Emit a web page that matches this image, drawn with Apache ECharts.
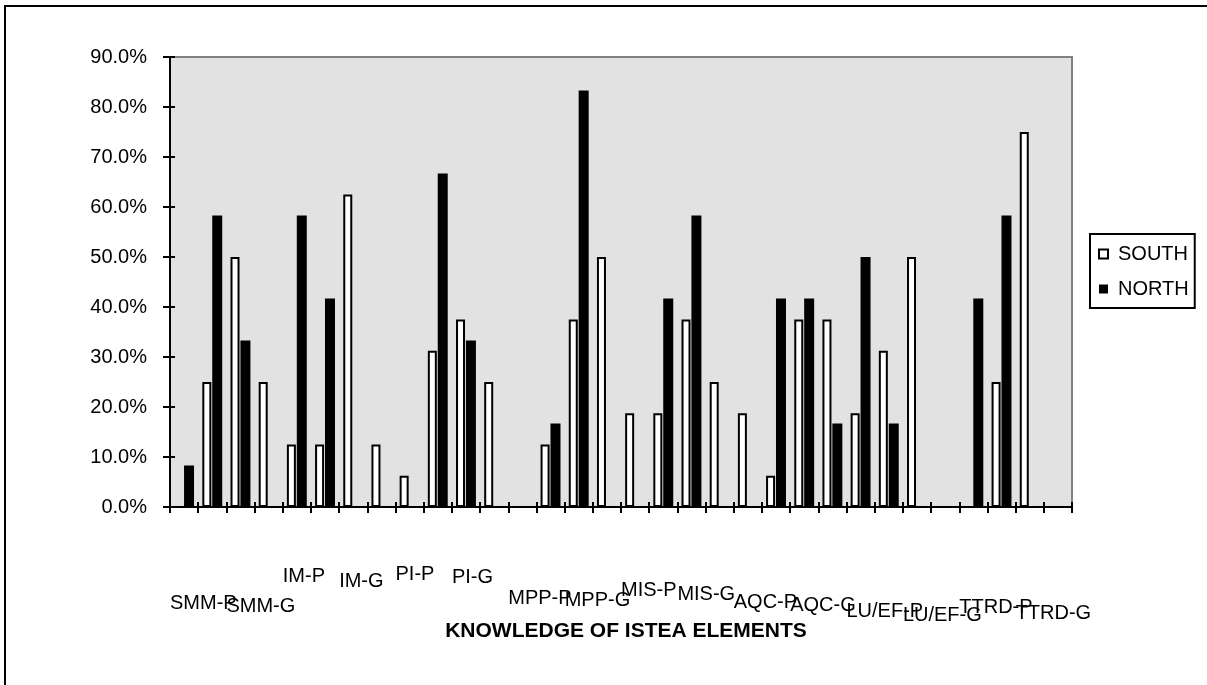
<!DOCTYPE html>
<html>
<head>
<meta charset="utf-8">
<script src="https://cdn.jsdelivr.net/npm/echarts@6/dist/echarts.min.js"></script>
<style>
  html, body { margin: 0; padding: 0; background: #fff; }
  #chart { width: 1207px; height: 685px; }
</style>
</head>
<body>
<div id="chart"></div>
<script>
// ---- data ----
const itemLabels = ['SMM-P', 'SMM-G', 'IM-P', 'IM-G', 'PI-P', 'PI-G', 'MPP-P', 'MPP-G',
  'MIS-P', 'MIS-G', 'AQC-P', 'AQC-G', 'LU/EF-P', 'LU/EF-G', 'TTRD-P', 'TTRD-G'];
// each element occupies two category slots on the chart
const slots = itemLabels.flatMap(l => [l + ' a', l + ' b']);
const southValues = [0, 25, 50, 25, 12.5, 12.5, 62.5, 12.5, 6.25, 31.25, 37.5, 25, 0, 12.5, 37.5, 50,
  18.75, 18.75, 37.5, 25, 18.75, 6.25, 37.5, 37.5, 18.75, 31.25, 50, 0, 0, 25, 75, 0];
const northValues = [8.3, 58.3, 33.3, 0, 58.3, 41.7, 0, 0, 0, 66.7, 33.3, 0, 0, 16.7, 83.3, 0,
  0, 41.7, 58.3, 0, 0, 41.7, 41.7, 16.7, 50, 16.7, 0, 0, 41.7, 58.3, 0, 0];
const seriesNames = ['SOUTH', 'NORTH'];
const yTicks = { min: 0, max: 90, interval: 10 };
const xTitle = 'KNOWLEDGE OF ISTEA ELEMENTS';

// ---- layout (vertical drop of each element label, px) ----
const labelDrop = [29, 32, 2, 7, 0, 3, 24, 26, 16, 20, 28, 31, 37, 41, 33, 39];

const FONT = "'Liberation Sans', Arial, sans-serif";
const rich = {};
labelDrop.forEach((d, i) => { rich['r' + i] = { lineHeight: 20 + 2 * d, fontSize: 20, fontFamily: FONT, color: '#000' }; });

// label axis: element boundaries (labels start at the left edge of each element's pair of slots)
const labelAxisData = itemLabels.concat(['']);

const chart = echarts.init(document.getElementById('chart'));
chart.setOption({
  animation: false,
  textStyle: { fontFamily: FONT },
  graphic: [{
    type: 'rect', shape: { x: 5, y: 6, width: 1300, height: 800 },
    style: { fill: 'none', stroke: '#000', lineWidth: 2 }, silent: true, z: -1
  }],
  grid: {
    left: 170, right: 135, top: 57, bottom: 178,
    show: true, backgroundColor: '#e2e2e2', borderColor: '#808080', borderWidth: 2
  },
  legend: {
    orient: 'vertical', left: 1090, top: 234,
    padding: [10, 6, 9, 8], itemGap: 15, itemWidth: 9, itemHeight: 9,
    borderColor: '#000', borderWidth: 2, icon: 'rect',
    textStyle: { fontSize: 20, color: '#000', fontFamily: FONT, padding: [0, 0, 0, 5] },
    data: seriesNames
  },
  xAxis: [{
    type: 'category', data: slots, position: 'bottom', gridIndex: 0,
    axisLine: { show: true, lineStyle: { color: '#000', width: 2 } },
    axisTick: { show: true, interval: 0, length: 6, lineStyle: { color: '#000', width: 2 } },
    axisLabel: { show: false },
    splitLine: { show: false }
  }, {
    type: 'category', data: labelAxisData, boundaryGap: false, position: 'bottom', gridIndex: 0,
    axisLine: { show: false }, axisTick: { show: false }, splitLine: { show: false },
    axisLabel: {
      show: true, interval: 0, align: 'left', verticalAlign: 'top', margin: 57,
      fontSize: 20, color: '#000', fontFamily: FONT,
      formatter: (v, i) => v ? '{r' + i + '|' + v + '}' : '',
      rich: rich
    },
    name: xTitle, nameLocation: 'middle', nameGap: 114, nameMoveOverlap: false,
    nameTextStyle: { fontSize: 21, fontWeight: 'bold', color: '#000', fontFamily: FONT, padding: [0, 0, 0, 10] }
  }, {
    type: 'category', data: slots, position: 'bottom', gridIndex: 0,
    axisLine: { show: false },
    axisTick: { show: true, inside: true, interval: 0, length: 5, lineStyle: { color: '#000', width: 2 } },
    axisLabel: { show: false }, splitLine: { show: false }
  }],
  yAxis: [{
    type: 'value', min: yTicks.min, max: yTicks.max, interval: yTicks.interval, position: 'left',
    axisLine: { show: true, lineStyle: { color: '#000', width: 2 } },
    axisTick: { show: true, length: 7, lineStyle: { color: '#000', width: 2 } },
    axisLabel: { margin: 23, fontSize: 20, color: '#000', fontFamily: FONT, formatter: v => v.toFixed(1) + '%' },
    splitLine: { show: false }
  }, {
    type: 'value', min: yTicks.min, max: yTicks.max, interval: yTicks.interval, position: 'left',
    axisLine: { show: false },
    axisTick: { show: true, inside: true, length: 5, lineStyle: { color: '#000', width: 2 } },
    axisLabel: { show: false }, splitLine: { show: false }
  }],
  series: [{
    name: seriesNames[0], type: 'bar', xAxisIndex: 0, yAxisIndex: 0,
    data: southValues, barWidth: 9, barGap: '10%',
    itemStyle: { color: '#fff', borderColor: '#000', borderWidth: 2 }
  }, {
    name: seriesNames[1], type: 'bar', xAxisIndex: 0, yAxisIndex: 0,
    data: northValues, barWidth: 10,
    itemStyle: { color: '#000' }
  }]
});
</script>
</body>
</html>
